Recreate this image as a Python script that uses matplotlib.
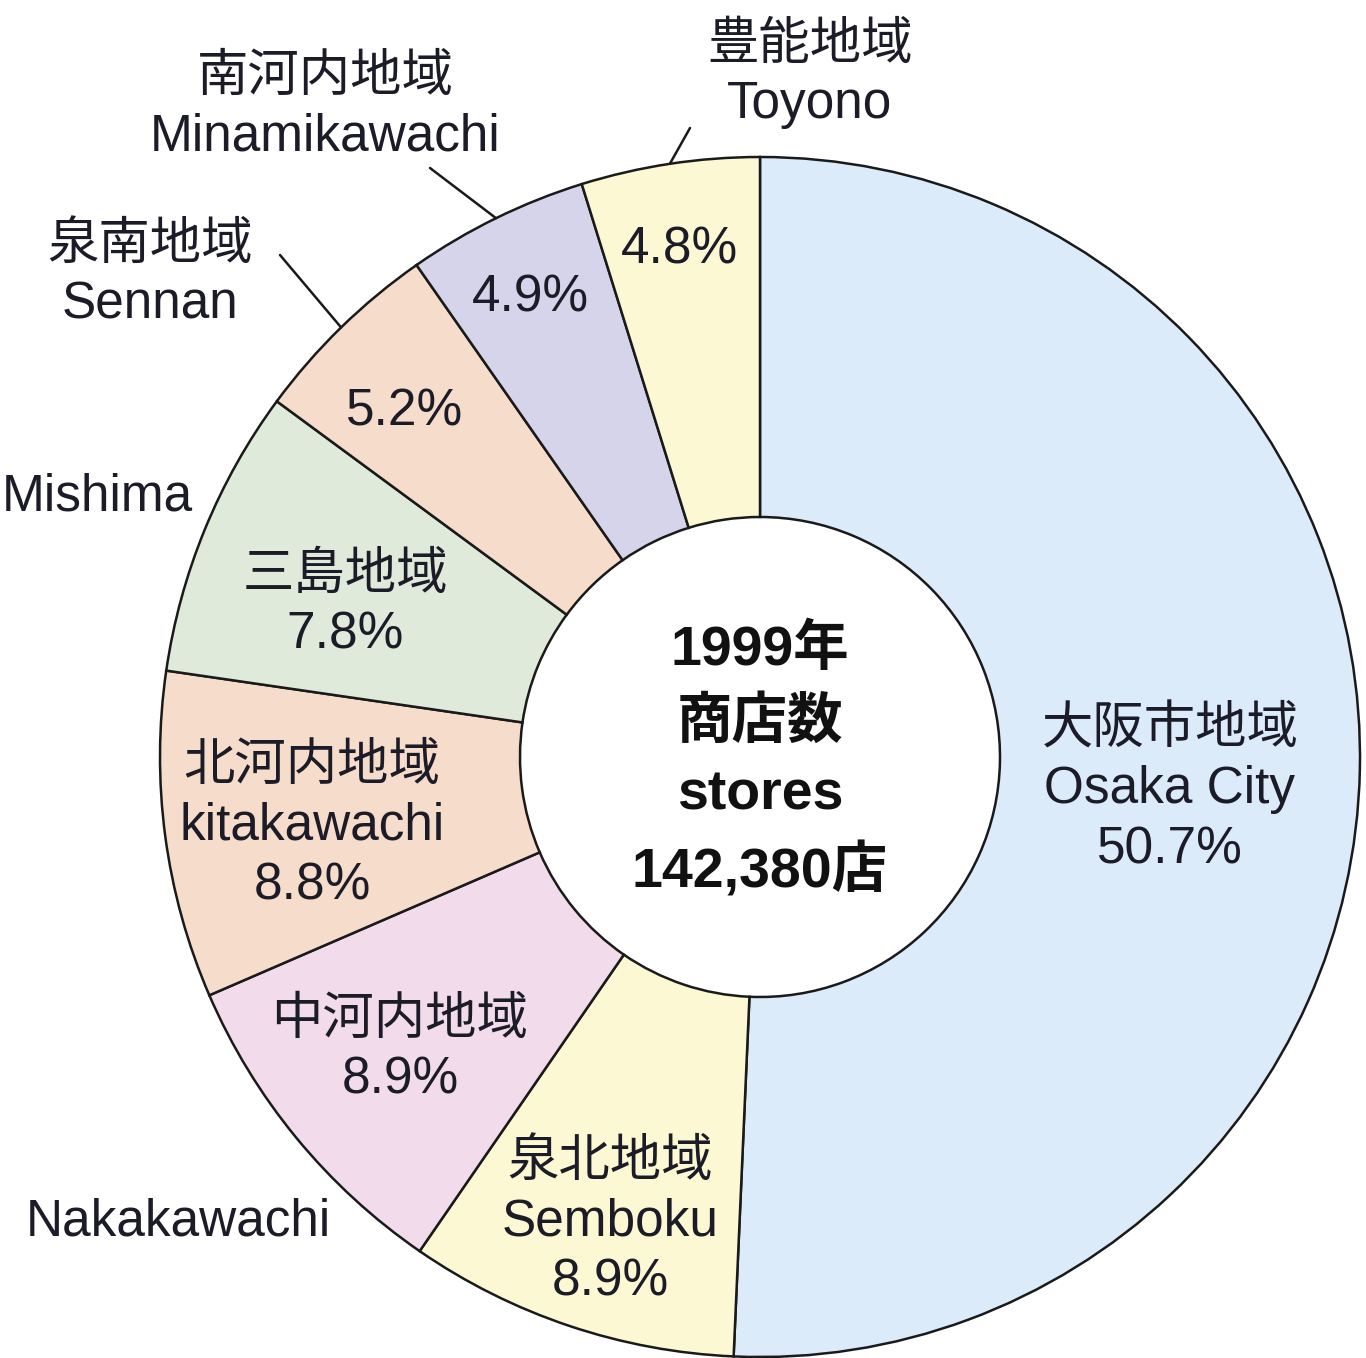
import matplotlib
matplotlib.use("Agg")
import matplotlib.pyplot as plt
import numpy as np

# ---- data ----
regions_jp = ["大阪市地域", "泉北地域", "中河内地域", "北河内地域", "三島地域", "泉南地域", "南河内地域", "豊能地域"]
regions_en = ["Osaka City", "Semboku", "Nakakawachi", "kitakawachi", "Mishima", "Sennan", "Minamikawachi", "Toyono"]
shares = [50.7, 8.9, 8.9, 8.8, 7.8, 5.2, 4.9, 4.8]
center_lines = ["1999年", "商店数", "stores", "142,380店"]

colors = ["#dcebfa", "#fbf8d3", "#f2dcec", "#f5dccb", "#dfeadb", "#f5dccb", "#d5d4ea", "#fbf8d3"]

W, H = 1366, 1358
fig = plt.figure(figsize=(W / 100, H / 100), dpi=100)
ax = fig.add_axes([0, 0, 1, 1])

cx, cy = 760, H - 757
R, r_in = 600, 240

wedges, _ = ax.pie(shares, startangle=90, counterclock=False, colors=colors,
                   center=(cx, cy), radius=R, frame=True,
                   wedgeprops=dict(width=R - r_in, edgecolor="#1a1a1a", linewidth=1.8))
ax.set_xlim(0, W)
ax.set_ylim(0, H)
ax.set_aspect("equal")
ax.axis("off")

FAM = ["Liberation Sans", "Noto Sans CJK JP"]
TC = "#1c1c28"
FS = 37

def T(x, y, s, **kw):
    kw.setdefault("fontsize", FS)
    kw.setdefault("color", TC)
    kw.setdefault("ha", "center")
    kw.setdefault("va", "center")
    ax.text(x, H - y, s, family=FAM, **kw)

pct = [f"{v}%" for v in shares]
LS = 1.28

# inside labels
T(1170, 790, f"{regions_jp[0]}\n{regions_en[0]}\n{pct[0]}", linespacing=LS)
T(610, 1222, f"{regions_jp[1]}\n{regions_en[1]}\n{pct[1]}", linespacing=LS)
T(400, 1050, f"{regions_jp[2]}\n{pct[2]}", linespacing=LS)
T(312, 826, f"{regions_jp[3]}\n{regions_en[3]}\n{pct[3]}", linespacing=LS)
T(345, 605, f"{regions_jp[4]}\n{pct[4]}", linespacing=LS)
T(405, 412, pct[5])
T(530, 298, pct[6])
T(680, 250, pct[7])

# outside labels
T(193, 497, regions_en[4], ha="right")
T(178, 1222, regions_en[2])
T(150, 275, f"{regions_jp[5]}\n{regions_en[5]}", linespacing=LS)
T(325, 107, f"{regions_jp[6]}\n{regions_en[6]}", linespacing=LS)
T(810, 75, f"{regions_jp[7]}\n{regions_en[7]}", linespacing=LS)

# leader lines to wedge mid-angles
cum = np.cumsum([0] + shares)
def edge_point(i):
    mid = (cum[i] + cum[i + 1]) / 2 / 100 * 360
    ang = np.deg2rad(90 - mid)
    return cx + R * np.cos(ang), cy + R * np.sin(ang)

for i, start in [(5, (280, 255)), (6, (430, 168)), (7, (690, 128))]:
    ex, ey = edge_point(i)
    ax.annotate("", xy=(ex, ey), xytext=(start[0], H - start[1]),
                arrowprops=dict(arrowstyle="-", color="#1a1a1a", lw=1.8, shrinkA=0, shrinkB=0))

# center text
T(cx, 762, "\n".join(center_lines), fontsize=40, fontweight="bold", linespacing=1.5, color="#111111")

fig.savefig("out.png", dpi=100, facecolor="white")
